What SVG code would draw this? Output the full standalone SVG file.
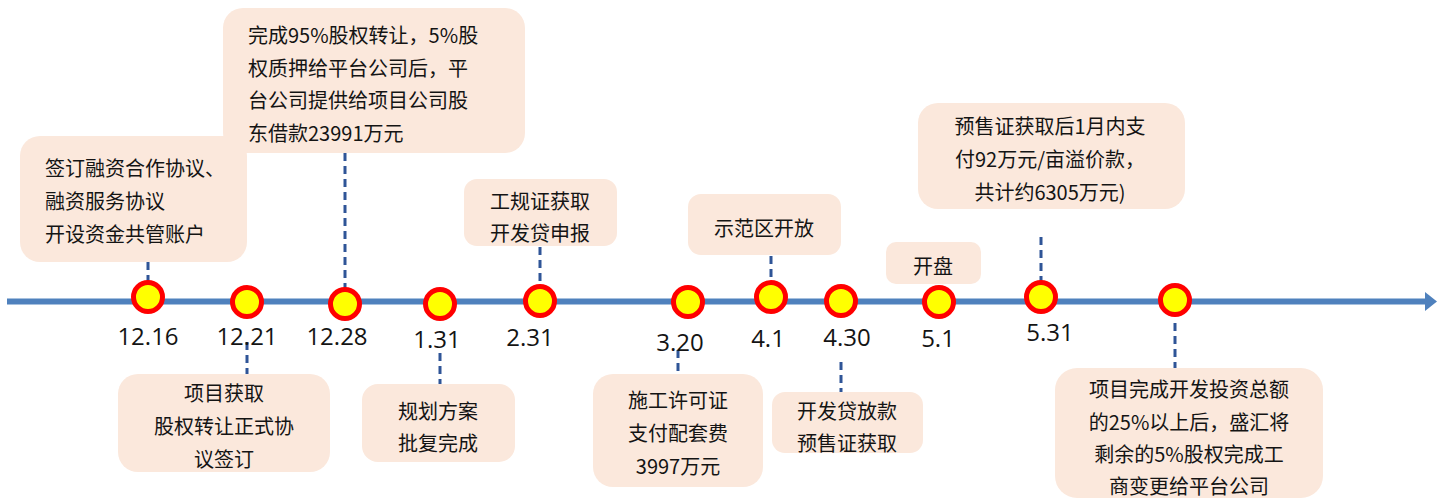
<svg xmlns="http://www.w3.org/2000/svg" width="1437" height="499" viewBox="0 0 1437 499">
<style>
.box{fill:#fbe8dc}
.t{font-family:"Noto Sans CJK SC","Microsoft YaHei",sans-serif;font-size:20px;fill:#141414}
.c{text-anchor:middle}
.d{font-family:"Open Sans","Noto Sans",sans-serif;font-size:24px;fill:#141414;text-anchor:middle}
.dot{fill:#ffff00;stroke:#ff0000;stroke-width:5}
.con{stroke:#2f5597;stroke-width:3;stroke-dasharray:8 5;fill:none}
</style>
<rect width="1437" height="499" fill="#ffffff"/>
<g id="timeline">
<line x1="7" y1="301.5" x2="1428" y2="301.5" stroke="#4f81bd" stroke-width="6"/>
<polygon points="1425,292 1437,301.5 1425,311" fill="#4f81bd"/>
</g>
<g id="connectors">
<line class="con" x1="148" y1="262" x2="148" y2="282"/>
<line class="con" x1="247" y1="342" x2="247" y2="374"/>
<line class="con" x1="345" y1="153" x2="345" y2="289"/>
<line class="con" x1="440" y1="353" x2="440" y2="384"/>
<line class="con" x1="540" y1="247" x2="540" y2="285"/>
<line class="con" x1="678" y1="350" x2="678" y2="374"/>
<line class="con" x1="771" y1="256" x2="771" y2="285"/>
<line class="con" x1="841" y1="362" x2="841" y2="392"/>
<line class="con" x1="1041" y1="237" x2="1041" y2="282"/>
<line class="con" x1="1175" y1="323" x2="1175" y2="368"/>
</g>
<g id="n1216">
<rect class="box" x="20" y="136" width="227" height="126" rx="20"/>
<text class="t" x="45" y="176">签订融资合作协议、</text>
<text class="t" x="45" y="209">融资服务协议</text>
<text class="t" x="45" y="242">开设资金共管账户</text>
<circle class="dot" cx="148" cy="297" r="14.5"/>
<text class="d" x="148" y="345">12.16</text>
</g>
<g id="n1221">
<rect class="box" x="118" y="374" width="212" height="98" rx="20"/>
<text class="t c" x="224" y="401">项目获取</text>
<text class="t c" x="224" y="434">股权转让正式协</text>
<text class="t c" x="224" y="467">议签订</text>
<circle class="dot" cx="247" cy="302" r="14.5"/>
<text class="d" x="247" y="345">12.21</text>
</g>
<g id="n1228">
<rect class="box" x="223" y="8" width="302" height="145" rx="20"/>
<text class="t" x="248" y="43">完成95%股权转让，5%股</text>
<text class="t" x="248" y="76">权质押给平台公司后，平</text>
<text class="t" x="248" y="108">台公司提供给项目公司股</text>
<text class="t" x="248" y="141">东借款23991万元</text>
<circle class="dot" cx="345" cy="304" r="14.5"/>
<text class="d" x="337" y="345">12.28</text>
</g>
<g id="n131">
<rect class="box" x="362" y="384" width="153" height="78" rx="16"/>
<text class="t c" x="438" y="419">规划方案</text>
<text class="t c" x="438" y="451">批复完成</text>
<circle class="dot" cx="440" cy="304" r="14.5"/>
<text class="d" x="437" y="348">1.31</text>
</g>
<g id="n231">
<rect class="box" x="464" y="179" width="153" height="67" rx="13"/>
<text class="t c" x="540" y="209">工规证获取</text>
<text class="t c" x="540" y="241">开发贷申报</text>
<circle class="dot" cx="540" cy="301" r="14.5"/>
<text class="d" x="530" y="346">2.31</text>
</g>
<g id="n320">
<rect class="box" x="593" y="374" width="170" height="113" rx="20"/>
<text class="t c" x="678" y="408">施工许可证</text>
<text class="t c" x="678" y="441">支付配套费</text>
<text class="t c" x="678" y="474">3997万元</text>
<circle class="dot" cx="688" cy="302" r="14.5"/>
<text class="d" x="680" y="351">3.20</text>
</g>
<g id="n41">
<rect class="box" x="688" y="194" width="153" height="61" rx="13"/>
<text class="t c" x="764" y="236">示范区开放</text>
<circle class="dot" cx="771" cy="297" r="14.5"/>
<text class="d" x="768" y="347">4.1</text>
</g>
<g id="n430">
<rect class="box" x="772" y="392" width="151" height="61" rx="13"/>
<text class="t c" x="847" y="419">开发贷放款</text>
<text class="t c" x="847" y="451">预售证获取</text>
<circle class="dot" cx="841" cy="301" r="14.5"/>
<text class="d" x="847" y="346">4.30</text>
</g>
<g id="n51">
<rect class="box" x="886" y="242" width="95" height="42" rx="10"/>
<text class="t c" x="933" y="274">开盘</text>
<circle class="dot" cx="939" cy="302" r="14.5"/>
<text class="d" x="938" y="347">5.1</text>
</g>
<g id="n531">
<rect class="box" x="918" y="103" width="267" height="106" rx="20"/>
<text class="t c" x="1050" y="134">预售证获取后1月内支</text>
<text class="t c" x="1050" y="167">付92万元/亩溢价款，</text>
<text class="t c" x="1050" y="200">共计约6305万元)</text>
<circle class="dot" cx="1041" cy="297" r="14.5"/>
<text class="d" x="1050" y="341">5.31</text>
</g>
<g id="nfinal">
<rect class="box" x="1055" y="368" width="268" height="130" rx="22"/>
<text class="t c" x="1189" y="397">项目完成开发投资总额</text>
<text class="t c" x="1189" y="430">的25%以上后，盛汇将</text>
<text class="t c" x="1189" y="462">剩余的5%股权完成工</text>
<text class="t c" x="1189" y="494">商变更给平台公司</text>
<circle class="dot" cx="1175" cy="300" r="14.5"/>
</g>
</svg>
